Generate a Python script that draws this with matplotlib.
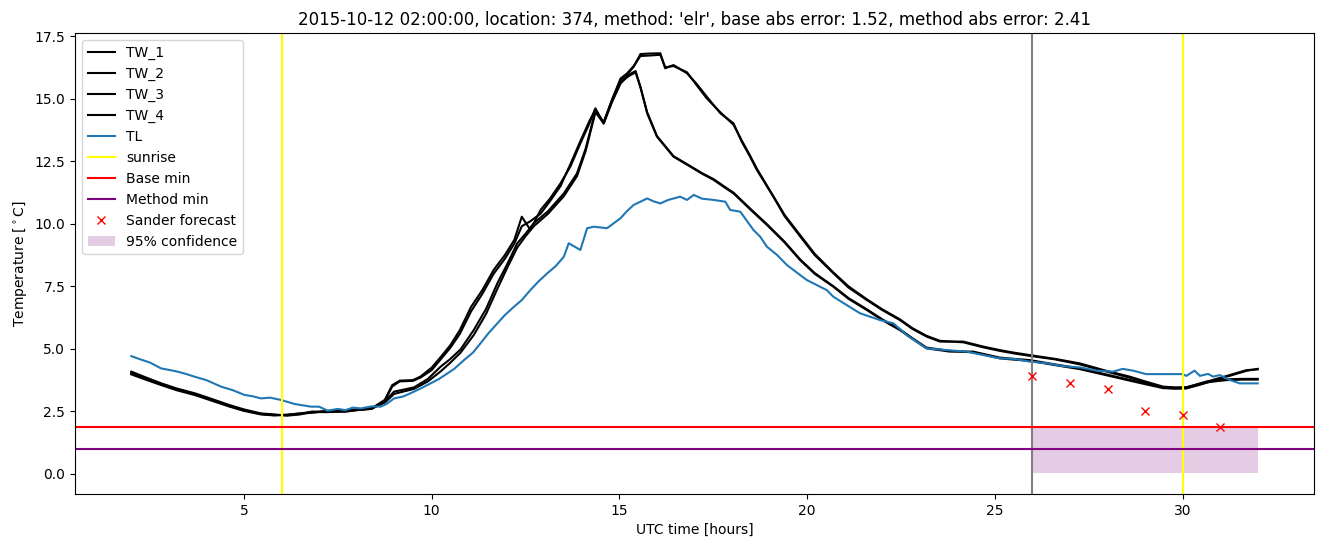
import matplotlib
matplotlib.use("Agg")
import matplotlib.pyplot as plt

# ---- data ----
# TW pair A (upper in the rise, slow decay)
t_a = [2.0, 2.4, 2.8, 3.2, 3.7, 4.1, 4.6, 5.0, 5.45, 5.8, 6.15, 6.5, 6.8, 7.2, 7.7, 8.0, 8.4, 8.75,
       8.95, 9.15, 9.5, 9.7, 10.0, 10.25, 10.5, 10.75, 11.05, 11.35, 11.65, 11.95, 12.2, 12.4, 12.63,
       12.9, 13.15, 13.43, 13.7, 13.96, 14.2, 14.36, 14.58, 14.8, 15.03, 15.2, 15.38, 15.56, 15.8,
       16.09, 16.22, 16.44, 16.8, 17.05, 17.33, 17.69, 18.04, 18.25, 18.48, 18.66, 19.1, 19.4, 19.81,
       20.2, 20.7, 21.1, 21.59, 22.0, 22.47, 22.8, 23.18, 23.54, 24.16, 24.69, 25.13, 25.5, 25.93,
       26.6, 27.26, 27.9, 28.59, 29.0, 29.48, 29.8, 30.1, 30.45, 30.81, 31.25, 31.7, 32.0]
tw1 = [4.09, 3.85, 3.62, 3.42, 3.22, 3.02, 2.76, 2.58, 2.42, 2.38, 2.33, 2.38, 2.49, 2.49, 2.49, 2.55,
       2.62, 2.96, 3.55, 3.73, 3.75, 3.89, 4.25, 4.69, 5.15, 5.75, 6.68, 7.35, 8.15, 8.75, 9.35, 10.28,
       9.75, 10.55, 11.0, 11.61, 12.3, 13.21, 14.0, 14.61, 14.01, 14.9, 15.74, 15.95, 16.27, 16.78,
       16.8, 16.81, 16.21, 16.34, 16.01, 15.6, 15.07, 14.41, 14.01, 13.3, 12.68, 12.15, 11.08, 10.3,
       9.5, 8.75, 8.02, 7.45, 6.95, 6.55, 6.15, 5.8, 5.49, 5.29, 5.29, 5.09, 4.95, 4.85, 4.75, 4.6,
       4.42, 4.15, 3.89, 3.7, 3.49, 3.46, 3.46, 3.6, 3.76, 3.95, 4.15, 4.18]
tw3 = [4.04, 3.82, 3.58, 3.38, 3.18, 2.98, 2.72, 2.55, 2.40, 2.35, 2.36, 2.42, 2.45, 2.52, 2.55, 2.58,
       2.6, 2.92, 3.5, 3.7, 3.72, 3.85, 4.15, 4.6, 5.05, 5.6, 6.5, 7.2, 8.0, 8.6, 9.2, 9.9,
       10.1, 10.4, 10.9, 11.5, 12.4, 13.3, 14.1, 14.55, 14.05, 14.95, 15.8, 16.0, 16.3, 16.7,
       16.72, 16.75, 16.25, 16.3, 16.05, 15.55, 15.0, 14.45, 13.95, 13.35, 12.72, 12.2, 11.1, 10.35,
       9.55, 8.8, 8.05, 7.5, 6.98, 6.58, 6.18, 5.83, 5.52, 5.32, 5.26, 5.06, 4.92, 4.82, 4.72, 4.58,
       4.38, 4.12, 3.85, 3.66, 3.45, 3.42, 3.42, 3.56, 3.72, 3.92, 4.12, 4.2]
# TW pair B (lower in the rise, fast decay)
t_b = [2.0, 2.4, 2.8, 3.2, 3.7, 4.1, 4.6, 5.0, 5.45, 5.8, 6.15, 6.5, 6.8, 7.2, 7.7, 8.0, 8.4, 8.75,
       9.0, 9.53, 9.9, 10.24, 10.5, 10.77, 11.12, 11.45, 11.75, 12.0, 12.28, 12.5, 12.72, 13.1,
       13.52, 13.87, 14.1, 14.36, 14.58, 14.8, 15.03, 15.25, 15.43, 15.56, 15.74, 16.0, 16.44, 16.89,
       17.2, 17.51, 17.8, 18.04, 18.5, 18.93, 19.4, 19.81, 20.2, 20.7, 21.1, 21.59, 22.0, 22.47, 22.8,
       23.18, 23.8, 24.42, 25.13, 25.5, 25.93, 26.6, 27.26, 27.9, 28.59, 29.0, 29.48, 29.8, 30.1,
       30.63, 31.16, 31.6, 32.0]
tw2 = [4.02, 3.8, 3.58, 3.38, 3.18, 2.98, 2.72, 2.55, 2.40, 2.36, 2.35, 2.4, 2.45, 2.5, 2.5, 2.55,
       2.6, 2.9, 3.29, 3.46, 3.8, 4.29, 4.6, 4.98, 5.75, 6.6, 7.62, 8.35, 9.22, 9.6, 10.02, 10.5,
       11.21, 12.01, 13.0, 14.5, 14.0, 14.85, 15.6, 15.95, 16.1, 15.47, 14.41, 13.48, 12.68, 12.28,
       12.0, 11.75, 11.45, 11.21, 10.55, 9.95, 9.25, 8.55, 8.0, 7.48, 7.0, 6.55, 6.15, 5.75, 5.4,
       5.02, 4.89, 4.89, 4.65, 4.6, 4.55, 4.38, 4.22, 4.0, 3.76, 3.62, 3.46, 3.44, 3.46,
       3.69, 3.78, 3.8, 3.8]
tw4 = [3.98, 3.76, 3.55, 3.35, 3.15, 2.95, 2.7, 2.52, 2.38, 2.34, 2.37, 2.42, 2.48, 2.47, 2.52, 2.57,
       2.62, 2.85, 3.2, 3.4, 3.7, 4.1, 4.45, 4.85, 5.55, 6.4, 7.4, 8.2, 9.05, 9.5, 9.9, 10.4,
       11.1, 11.9, 12.9, 14.45, 14.05, 14.9, 15.65, 15.9, 16.05, 15.45, 14.45, 13.5, 12.7, 12.3,
       12.02, 11.78, 11.48, 11.24, 10.58, 9.98, 9.28, 8.58, 8.03, 7.5, 7.03, 6.58, 6.18, 5.78, 5.43,
       5.05, 4.92, 4.86, 4.62, 4.57, 4.52, 4.35, 4.19, 3.97, 3.73, 3.59, 3.43, 3.41, 3.43,
       3.66, 3.75, 3.77, 3.77]
# TL
t_l = [2.0, 2.2, 2.5, 2.79, 3.2, 3.45, 3.68, 4.0, 4.39, 4.7, 5.01, 5.25, 5.45, 5.7, 5.98, 6.34,
       6.78, 7.0, 7.23, 7.5, 7.7, 7.9, 8.11, 8.4, 8.64, 8.8, 9.0, 9.25, 9.53, 9.75, 9.97, 10.2, 10.42,
       10.6, 10.86, 11.1, 11.3, 11.5, 11.75, 11.95, 12.19, 12.4, 12.63, 12.85, 13.08, 13.3, 13.52,
       13.65, 13.96, 14.14, 14.32, 14.67, 15.03, 15.2, 15.38, 15.74, 15.9, 16.09, 16.3, 16.62, 16.8,
       16.98, 17.2, 17.51, 17.82, 17.95, 18.22, 18.57, 18.75, 18.93, 19.2, 19.46, 19.99, 20.52, 20.7,
       21.0, 21.41, 21.94, 22.3, 22.65, 23.18, 23.7, 24.25, 24.6, 25.13, 25.5, 25.93, 26.4, 26.82,
       27.3, 27.7, 28.15, 28.4, 28.68, 29.03, 29.5, 30.0, 30.1, 30.32, 30.46, 30.68, 30.81, 30.99,
       31.25, 31.52, 32.0]
tl = [4.71, 4.6, 4.45, 4.22, 4.1, 4.0, 3.89, 3.75, 3.49, 3.35, 3.16, 3.1, 3.02, 3.05, 2.96, 2.80,
      2.69, 2.69, 2.53, 2.6, 2.55, 2.65, 2.62, 2.7, 2.69, 2.8, 3.02, 3.1, 3.29, 3.45, 3.62, 3.8, 4.02,
      4.2, 4.55, 4.85, 5.22, 5.6, 6.02, 6.35, 6.68, 6.95, 7.35, 7.7, 8.02, 8.3, 8.68,
      9.22, 8.95, 9.82, 9.88, 9.82, 10.22, 10.5, 10.75, 11.01, 10.9, 10.81, 10.95, 11.08, 10.95,
      11.15, 11.0, 10.95, 10.88, 10.55, 10.48, 9.75, 9.48, 9.08, 8.75, 8.35, 7.75, 7.35, 7.08,
      6.8, 6.42, 6.15, 6.02, 5.55, 5.02, 4.95, 4.89, 4.78, 4.62, 4.6, 4.49, 4.42, 4.31,
      4.25, 4.13, 4.09, 4.2, 4.13, 3.99, 3.99, 3.99, 3.92, 4.13, 3.92, 4.0, 3.89, 3.95,
      3.76, 3.62, 3.62]

sunrise_times = [6, 30]
forecast_time = 26
base_min = 1.89
method_min = 1.01
sander_t = [26, 27, 28, 29, 30, 31]
sander_v = [3.92, 3.62, 3.38, 2.52, 2.35, 1.87]
conf_t = [26, 32]
conf_low = 0.05
conf_high = 1.89

title = ("2015-10-12 02:00:00, location: 374, method: 'elr', "
         "base abs error: 1.52, method abs error: 2.41")

# ---- plot ----
fig = plt.figure(figsize=(13.24, 5.47), dpi=100)
ax = fig.add_axes([75 / 1324, 53 / 547, (1314 - 75) / 1324, (494 - 33) / 547])

ax.plot(t_a, tw1, color="black", label="TW_1")
ax.plot(t_b, tw2, color="black", label="TW_2")
ax.plot(t_a, tw3, color="black", label="TW_3")
ax.plot(t_b, tw4, color="black", label="TW_4")
ax.plot(t_l, tl, color="tab:blue", label="TL")
ax.axvline(sunrise_times[0], color="yellow", label="sunrise")
ax.axvline(sunrise_times[1], color="yellow")
ax.axvline(forecast_time, color="grey")
ax.axhline(base_min, color="red", label="Base min")
ax.axhline(method_min, color="purple", label="Method min")
ax.plot(sander_t, sander_v, "rx", label="Sander forecast")
ax.fill_between(conf_t, [conf_low] * 2, [conf_high] * 2, color="purple", alpha=0.2,
                linewidth=0, label="95% confidence")

ax.set_xlim(0.5, 33.5)
ax.set_ylim(-0.8, 17.62)
ax.set_xticks([5, 10, 15, 20, 25, 30])
ax.set_yticks([0.0, 2.5, 5.0, 7.5, 10.0, 12.5, 15.0, 17.5])
ax.set_xlabel("UTC time [hours]")
ax.set_ylabel("Temperature [$^\\circ$C]")
ax.set_title(title)
ax.legend(loc="upper left")

fig.savefig("out.png", dpi=100)
